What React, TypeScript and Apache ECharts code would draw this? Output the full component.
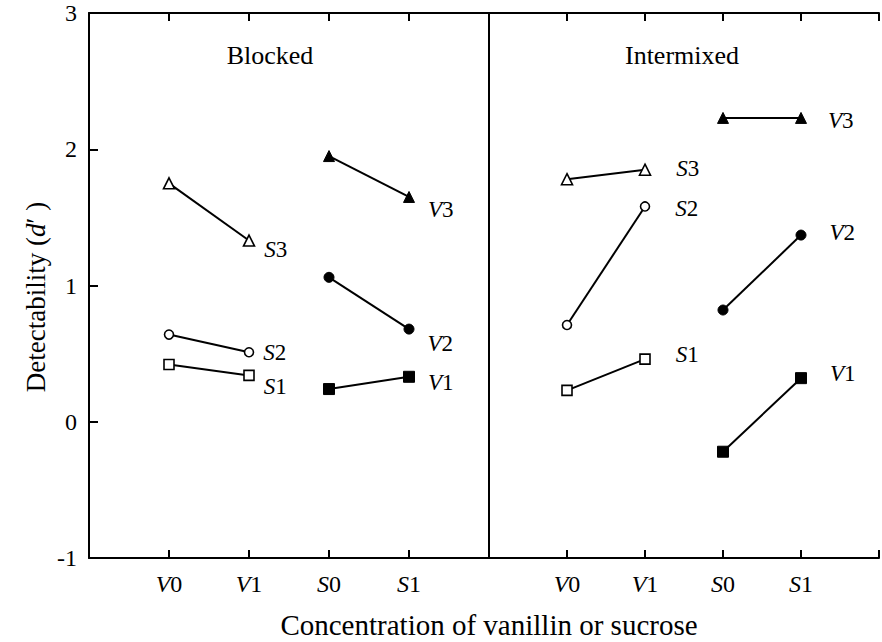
import React, { useEffect, useRef } from "react";
import * as echarts from "echarts";

const categories = ["V0", "V1", "S0", "S1"];
const yTicks = [-1, 0, 1, 2, 3];
const panels = ["Blocked", "Intermixed"];

// Blocked condition
const blockedS3 = [1.75, 1.33]; // V0, V1
const blockedS2 = [0.64, 0.51];
const blockedS1 = [0.42, 0.34];
const blockedV3 = [1.95, 1.65]; // S0, S1
const blockedV2 = [1.06, 0.68];
const blockedV1 = [0.24, 0.33];

// Intermixed condition
const intermixedS3 = [1.78, 1.85];
const intermixedS2 = [0.71, 1.58];
const intermixedS1 = [0.23, 0.46];
const intermixedV3 = [2.23, 2.23];
const intermixedV2 = [0.82, 1.37];
const intermixedV1 = [-0.22, 0.32];

const FONT = "Liberation Serif";

const labelRich = {
  i: { fontStyle: "italic", fontFamily: FONT, fontSize: 23, color: "#000" },
  n: { fontFamily: FONT, fontSize: 23, color: "#000" },
};

function richName(name: string) {
  return `{i|${name[0]}}{n|${name.slice(1)}}`;
}

type Spec = {
  name: string;
  values: number[];
  cats: string[];
  panel: number;
  symbol: string;
  size: number;
  filled: boolean;
  offset: [number, number];
};

const specs: Spec[] = [
  { name: "S3", values: blockedS3, cats: ["V0", "V1"], panel: 0, symbol: "triangle", size: 11, filled: false, offset: [-3, 9] },
  { name: "S2", values: blockedS2, cats: ["V0", "V1"], panel: 0, symbol: "circle", size: 9, filled: false, offset: [-3, 0] },
  { name: "S1", values: blockedS1, cats: ["V0", "V1"], panel: 0, symbol: "rect", size: 10, filled: false, offset: [-3, 11] },
  { name: "V3", values: blockedV3, cats: ["S0", "S1"], panel: 0, symbol: "triangle", size: 11, filled: true, offset: [1, 13] },
  { name: "V2", values: blockedV2, cats: ["S0", "S1"], panel: 0, symbol: "circle", size: 10, filled: true, offset: [1, 14] },
  { name: "V1", values: blockedV1, cats: ["S0", "S1"], panel: 0, symbol: "rect", size: 11, filled: true, offset: [1, 6] },
  { name: "S3", values: intermixedS3, cats: ["V0", "V1"], panel: 1, symbol: "triangle", size: 11, filled: false, offset: [13, -1] },
  { name: "S2", values: intermixedS2, cats: ["V0", "V1"], panel: 1, symbol: "circle", size: 9, filled: false, offset: [13, 2] },
  { name: "S1", values: intermixedS1, cats: ["V0", "V1"], panel: 1, symbol: "rect", size: 10, filled: false, offset: [13, -5] },
  { name: "V3", values: intermixedV3, cats: ["S0", "S1"], panel: 1, symbol: "triangle", size: 11, filled: true, offset: [9, 3] },
  { name: "V2", values: intermixedV2, cats: ["S0", "S1"], panel: 1, symbol: "circle", size: 10, filled: true, offset: [11, -3] },
  { name: "V1", values: intermixedV1, cats: ["S0", "S1"], panel: 1, symbol: "rect", size: 11, filled: true, offset: [11, -5] },
];

function buildSeries() {
  return specs.map((s) => ({
    type: "line",
    name: `${panels[s.panel]} ${s.name}`,
    xAxisIndex: s.panel * 2,
    yAxisIndex: s.panel,
    symbol: s.symbol,
    symbolSize: s.size,
    showAllSymbol: true,
    lineStyle: { color: "#000", width: 2 },
    itemStyle: {
      color: s.filled ? "#000" : "#fff",
      borderColor: "#000",
      borderWidth: s.filled ? 1 : 1.6,
    },
    emphasis: { disabled: true },
    data: s.values.map((v, k) => {
      const x = categories.indexOf(s.cats[k]) + 1;
      if (k === s.values.length - 1) {
        return {
          value: [x, v],
          label: {
            show: true,
            position: "right",
            distance: 12,
            offset: s.offset,
            formatter: richName(s.name),
            rich: labelRich,
          },
        };
      }
      return { value: [x, v] };
    }),
  }));
}

function xAxis(gridIndex: number, position: "top" | "bottom") {
  return {
    type: "value",
    gridIndex,
    position,
    min: 0,
    max: categories.length + 1,
    interval: 1,
    splitLine: { show: false },
    axisLine: { show: true, onZero: false, lineStyle: { color: "#000", width: 2 } },
    axisTick: { show: true, inside: true, length: 8, lineStyle: { color: "#000", width: 2 } },
    axisLabel: {
      show: position === "bottom",
      margin: 14,
      formatter: (v: number) => {
        const c = categories[v - 1];
        return c ? richName(c) : "";
      },
      rich: {
        i: { fontStyle: "italic", fontFamily: FONT, fontSize: 24, color: "#000" },
        n: { fontFamily: FONT, fontSize: 24, color: "#000" },
      },
    },
  };
}

export default function App() {
  const ref = useRef<HTMLDivElement>(null);
  useEffect(() => {
    if (!ref.current) return;
    const chart = echarts.init(ref.current, null, { renderer: "svg" });
    chart.setOption({
      animation: false,
      backgroundColor: "#fff",
      textStyle: { fontFamily: FONT },
      grid: [
        { left: 89, top: 13, width: 400, height: 545 },
        { left: 489, top: 13, width: 400, height: 545 },
      ],
      xAxis: [xAxis(0, "bottom"), xAxis(0, "top"), xAxis(1, "bottom"), xAxis(1, "top")],
      yAxis: [
        {
          type: "value",
          gridIndex: 0,
          min: yTicks[0],
          max: yTicks[yTicks.length - 1],
          interval: 1,
          splitLine: { show: false },
          axisLine: { show: true, lineStyle: { color: "#000", width: 2 } },
          axisTick: { show: true, inside: true, length: 9, lineStyle: { color: "#000", width: 2 } },
          axisLabel: { color: "#000", fontFamily: FONT, fontSize: 24, margin: 12 },
        },
        {
          type: "value",
          gridIndex: 1,
          min: yTicks[0],
          max: yTicks[yTicks.length - 1],
          interval: 1,
          splitLine: { show: false },
          axisLine: { show: true, lineStyle: { color: "#000", width: 2 } },
          axisTick: { show: false },
          axisLabel: { show: false },
        },
      ],
      graphic: [
        {
          type: "text",
          x: 270,
          y: 55,
          style: { text: panels[0], fontFamily: FONT, fontSize: 26, fill: "#000", textAlign: "center", textVerticalAlign: "middle" },
        },
        {
          type: "text",
          x: 682,
          y: 55,
          style: { text: panels[1], fontFamily: FONT, fontSize: 26, fill: "#000", textAlign: "center", textVerticalAlign: "middle" },
        },
        {
          type: "text",
          x: 36,
          y: 297,
          rotation: Math.PI / 2,
          style: {
            text: "{n|Detectability (}{i|d}{n|′ )}",
            fontFamily: FONT,
            fontSize: 27,
            fill: "#000",
            textAlign: "center",
            textVerticalAlign: "middle",
            rich: {
              i: { fontStyle: "italic", fontFamily: FONT, fontSize: 27, fill: "#000" },
              n: { fontFamily: FONT, fontSize: 27, fill: "#000" },
            },
          },
        },
        {
          type: "text",
          x: 489,
          y: 625,
          style: {
            text: "Concentration of vanillin or sucrose",
            fontFamily: FONT,
            fontSize: 29,
            fill: "#000",
            textAlign: "center",
            textVerticalAlign: "middle",
          },
        },
      ],
      series: buildSeries(),
    });
    return () => chart.dispose();
  }, []);
  return <div ref={ref} style={{ width: 882, height: 642, position: "absolute", left: 0, top: 0 }} />;
}
